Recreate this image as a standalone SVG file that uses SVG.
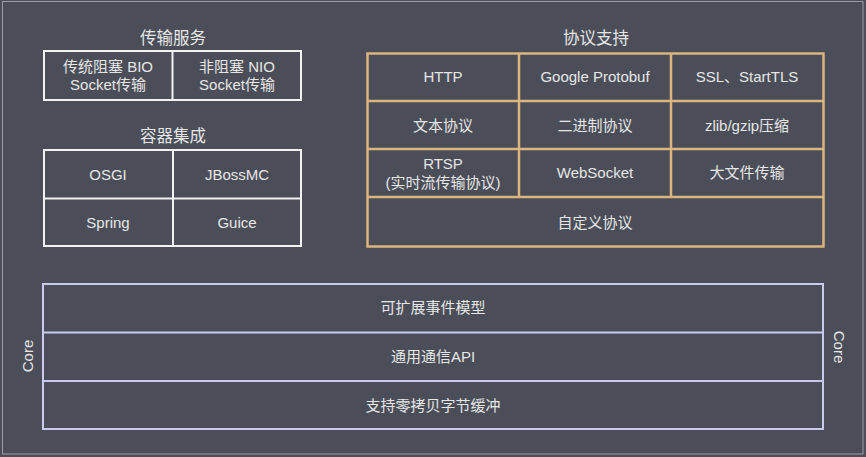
<svg xmlns="http://www.w3.org/2000/svg" width="866" height="457" viewBox="0 0 866 457">
<style>
.bg{fill:#4b4e59}
.w{fill:none;stroke:#f2f2f2;stroke-width:2}
.o{fill:none;stroke:#dcb47e;stroke-width:2.5}
.c{fill:none;stroke:#c9cbee;stroke-width:2}
text{font-family:"Liberation Sans","Noto Sans CJK SC",sans-serif;fill:#e6e6e6;text-anchor:middle;font-size:15px}
.t{font-size:16.5px}
</style>
<rect class="bg" x="0" y="0" width="866" height="457"/>
<rect x="2.5" y="1.5" width="860.5" height="452.5" fill="none" stroke="#9a9ca6" stroke-width="1"/>
<g id="transport">
<text class="t" x="173" y="44">传输服务</text>
<rect class="w" x="44" y="51" width="257" height="49"/>
<line class="w" x1="172.5" y1="51" x2="172.5" y2="100"/>
<text x="108" y="72">传统阻塞 BIO</text>
<text x="108" y="90">Socket传输</text>
<text x="237" y="72">非阻塞 NIO</text>
<text x="237" y="90">Socket传输</text>
</g>
<g id="container">
<text class="t" x="173" y="142">容器集成</text>
<rect class="w" x="44" y="150" width="257" height="96"/>
<line class="w" x1="173" y1="150" x2="173" y2="246"/>
<line class="w" x1="44" y1="198.5" x2="301" y2="198.5"/>
<text x="108" y="180">OSGI</text>
<text x="237" y="180">JBossMC</text>
<text x="108" y="228">Spring</text>
<text x="237" y="228">Guice</text>
</g>
<g id="protocol">
<text class="t" x="596" y="44">协议支持</text>
<rect class="o" x="367.5" y="53.5" width="456" height="193"/>
<line class="o" x1="367.5" y1="101" x2="823.5" y2="101"/>
<line class="o" x1="367.5" y1="149" x2="823.5" y2="149"/>
<line class="o" x1="367.5" y1="197" x2="823.5" y2="197"/>
<line class="o" x1="519" y1="53.5" x2="519" y2="197"/>
<line class="o" x1="671" y1="53.5" x2="671" y2="197"/>
<text x="443" y="82">HTTP</text>
<text x="595" y="82">Google Protobuf</text>
<text x="747" y="82">SSL、StartTLS</text>
<text x="443" y="131">文本协议</text>
<text x="595" y="131">二进制协议</text>
<text x="747" y="131">zlib/gzip压缩</text>
<text x="443" y="169">RTSP</text>
<text x="443" y="188">(实时流传输协议)</text>
<text x="595" y="178">WebSocket</text>
<text x="747" y="178">大文件传输</text>
<text x="595" y="228">自定义协议</text>
</g>
<g id="core">
<rect class="c" x="43" y="284" width="780" height="145"/>
<line class="c" x1="43" y1="332.5" x2="823" y2="332.5"/>
<line class="c" x1="43" y1="381" x2="823" y2="381"/>
<text x="433" y="313">可扩展事件模型</text>
<text x="433" y="362">通用通信API</text>
<text x="433" y="411">支持零拷贝字节缓冲</text>
<text transform="translate(33,356) rotate(-90)">Core</text>
<text transform="translate(834,347) rotate(90)">Core</text>
</g>
</svg>
